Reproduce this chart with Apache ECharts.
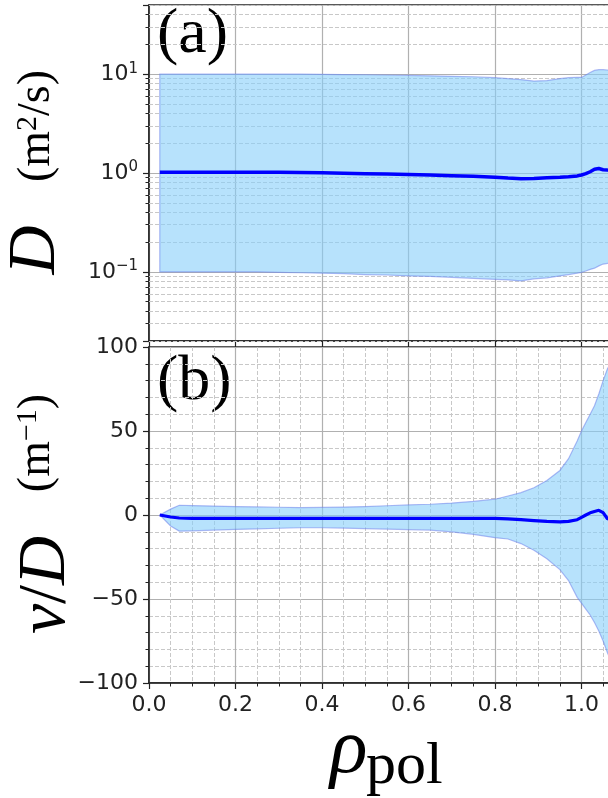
<!DOCTYPE html>
<html><head><meta charset="utf-8">
<script src="https://cdn.jsdelivr.net/npm/echarts@6/dist/echarts.min.js"></script>
<style>html,body{margin:0;padding:0;overflow:hidden;background:#fff}#c{width:660px;height:798px}</style>
</head><body><div id="c"></div><script>
// rho_pol sample positions
const rho = [0.025,0.05,0.07,0.1,0.15,0.2,0.25,0.3,0.35,0.4,0.45,0.5,0.55,0.6,0.65,0.7,0.75,0.8,0.83,0.86,0.89,0.92,0.95,0.97,0.99,1.0,1.01,1.02,1.03,1.04,1.05,1.06,1.08,1.1];
// panel (a): D (m^2/s)
const dMean = [1.02,1.02,1.02,1.02,1.02,1.02,1.02,1.015,1.01,1.005,0.995,0.985,0.975,0.965,0.955,0.94,0.925,0.905,0.89,0.877,0.88,0.895,0.905,0.915,0.935,0.955,0.985,1.03,1.09,1.11,1.08,1.07,1.06,1.05];
const dHigh = [10,10,10,10,10,10,10,10,10,9.95,9.9,9.85,9.8,9.7,9.6,9.5,9.4,9.2,9.0,8.8,8.5,8.6,9.0,9.2,9.3,9.25,9.8,10.4,10.9,11.1,11.1,11.0,11.0,11.0];
const dLow = [0.1,0.1,0.1,0.1,0.1,0.1,0.1,0.099,0.098,0.097,0.096,0.094,0.093,0.091,0.09,0.088,0.086,0.084,0.083,0.081,0.085,0.087,0.091,0.094,0.097,0.099,0.102,0.106,0.109,0.115,0.12,0.122,0.123,0.124];
// panel (b): v/D (m^-1)
const vMean = [0,-1.2,-1.8,-2,-2,-2,-2,-2,-2,-2,-2,-2,-2,-2,-2,-2,-2,-2,-2.3,-2.8,-3.3,-3.8,-4.1,-3.8,-2.8,-1.4,0,1.3,2.1,2.8,1.4,-2.2,-3,-3];
const vHigh = [0,3.5,5.8,5.6,5.3,5.0,4.8,4.6,4.4,4.5,4.7,5.0,5.5,6.0,6.4,7.1,8.1,9.4,11.3,13.3,16.2,20.5,26.5,33.5,44,50,55,60,65,72,80,87,96,100];
const vLow = [0,-6.5,-9.6,-9.4,-9.0,-8.6,-8.2,-7.9,-7.6,-7.6,-7.8,-8.1,-8.4,-8.7,-9.0,-10.0,-11.5,-13.5,-14.3,-17,-21,-26,-32.5,-39,-49,-52.5,-56,-59.5,-64,-69,-75,-82,-94,-100];
// log-axis minor gridline values
const dMinor = [0.02,0.03,0.04,0.05,0.06,0.07,0.08,0.09,0.2,0.3,0.4,0.5,0.6,0.7,0.8,0.9,2,3,4,5,6,7,8,9,20,30,40,50];
const panelLabels = ['(a)','(b)'];

const chart = echarts.init(document.getElementById('c'), null, {renderer:'canvas'});
const GL = 149, GW = 475.75;
const FILL = 'rgba(135,206,250,0.6)', EDGE = 'rgba(110,130,235,0.55)';
const tickFont = {fontFamily:'DejaVu Sans', fontSize:22, color:'#222'};

function band(xi, yi, lo, hi){
  return {type:'custom', xAxisIndex:xi, yAxisIndex:yi, clip:true, z:2, silent:true,
    data: rho.map((r,i)=>[r, lo[i], hi[i]]),
    renderItem: function(params, api){
      if (params.dataIndex !== 0) return null;
      const pts = [];
      for (let i=0;i<rho.length;i++) pts.push(api.coord([rho[i], hi[i]]));
      for (let i=rho.length-1;i>=0;i--) pts.push(api.coord([rho[i], lo[i]]));
      return {type:'polygon', shape:{points:pts, smooth:0}, style:{fill:FILL, stroke:EDGE, lineWidth:1.2}};
    }};
}
function meanLine(xi, yi, vals, w){
  return {type:'line', xAxisIndex:xi, yAxisIndex:yi, data: rho.map((r,i)=>[r, vals[i]]),
    showSymbol:false, symbol:'none', z:5, silent:true, lineStyle:{color:'#0000ff', width:w}};
}
const majorSplit = {show:true, lineStyle:{color:'#b0b0b0', width:1.2}};
const minorSplit = {show:true, lineStyle:{color:'#c8c8c8', width:1, type:[4,2]}};
const axLine = {show:true, onZero:false, lineStyle:{color:'#222', width:1.5}};

const option = {
  animation:false,
  grid:[
    {left:GL, top:5, width:GW, height:336, show:true, borderColor:'#222', borderWidth:1.5, backgroundColor:'transparent'},
    {left:GL, top:347, width:GW, height:336, show:true, borderColor:'#222', borderWidth:1.5, backgroundColor:'transparent'}
  ],
  xAxis:[
    {type:'value', gridIndex:0, min:0, max:1.1, interval:0.2, axisLine:axLine,
     axisTick:{show:true, length:6, lineStyle:{color:'#222', width:1.2}}, axisLabel:{show:false}, splitLine:majorSplit},
    {type:'value', gridIndex:1, min:0, max:1.1, interval:0.2, axisLine:axLine,
     axisTick:{show:true, length:6, lineStyle:{color:'#222', width:1.2}},
     minorTick:{show:true, splitNumber:4, length:3.5, lineStyle:{color:'#222', width:1}},
     minorSplitLine:minorSplit,
     axisLabel:Object.assign({margin:11, formatter:v=> v>1.05 ? '' : v.toFixed(1)}, tickFont),
     splitLine:majorSplit}
  ],
  yAxis:[
    {type:'log', gridIndex:0, logBase:10, min:0.02, max:50, axisLine:axLine,
     axisTick:{show:true, length:6, lineStyle:{color:'#222', width:1.2}},
     axisLabel:Object.assign({margin:11, formatter:function(v){
        const l = Math.log10(v), e = Math.round(l);
        if (Math.abs(l-e) > 1e-6) return '';
        return '10{s|' + (e<0?'\u2212':'') + Math.abs(e) + '}';
     }, rich:{s:{fontFamily:'DejaVu Sans', fontSize:15, color:'#222', padding:[0,0,11,0]}}}, tickFont),
     splitLine:majorSplit},
    {type:'log', gridIndex:0, logBase:10, min:0.02, max:50, position:'left',
     axisLine:{show:false}, axisLabel:{show:false}, splitLine:{show:false},
     axisTick:{show:true, length:3.5, customValues:dMinor, lineStyle:{color:'#222', width:1}}},
    {type:'value', gridIndex:1, min:-100, max:100, interval:50, axisLine:axLine,
     axisTick:{show:true, length:6, lineStyle:{color:'#222', width:1.2}},
     minorTick:{show:true, splitNumber:5, length:3.5, lineStyle:{color:'#222', width:1}},
     minorSplitLine:minorSplit,
     axisLabel:Object.assign({margin:11, formatter:v=> v<0 ? '\u2212'+Math.abs(v) : String(v)}, tickFont),
     splitLine:majorSplit}
  ],
  series:[
    {type:'line', xAxisIndex:0, yAxisIndex:0, data:[], silent:true,
     markLine:{silent:true, z:1, symbol:['none','none'], label:{show:false},
       lineStyle:{color:'#c8c8c8', width:1, type:[4,2]}, data: dMinor.map(v=>({yAxis:v}))}},
    band(0,0,dLow,dHigh),
    meanLine(0,0,dMean,3.5),
    band(1,2,vLow,vHigh),
    meanLine(1,2,vMean,3.2)
  ],
  graphic:{elements:[
    {type:'text', x:157, y:3, style:{text:panelLabels[0], fontFamily:'Liberation Serif', fontSize:64, fill:'#000'}},
    {type:'text', x:157, y:350, style:{text:panelLabels[1], fontFamily:'Liberation Serif', fontSize:64, fill:'#000'}},
    {type:'text', x:36, y:250, rotation:Math.PI/2, style:{text:'D', fontFamily:'Liberation Serif', fontStyle:'italic', fontSize:68, fill:'#000', textAlign:'center', textVerticalAlign:'middle'}},
    {type:'text', x:37, y:126, rotation:Math.PI/2, style:{text:'{u|(m}{s|2}{u|/s)}', textAlign:'center', textVerticalAlign:'middle',
      rich:{u:{fontFamily:'Liberation Serif', fontSize:46, fill:'#000'}, s:{fontFamily:'Liberation Serif', fontSize:30, fill:'#000', padding:[0,0,18,0]}}}},
    {type:'text', x:46, y:585, rotation:Math.PI/2, style:{text:'{i|v}{n|/}{i|D}', textAlign:'center', textVerticalAlign:'middle',
      rich:{i:{fontFamily:'Liberation Serif', fontStyle:'italic', fontSize:68, fill:'#000'}, n:{fontFamily:'Liberation Serif', fontSize:68, fill:'#000'}}}},
    {type:'text', x:37, y:443, rotation:Math.PI/2, style:{text:'{u|(m}{s|\u22121}{u|)}', textAlign:'center', textVerticalAlign:'middle',
      rich:{u:{fontFamily:'Liberation Serif', fontSize:46, fill:'#000'}, s:{fontFamily:'Liberation Serif', fontSize:30, fill:'#000', padding:[0,0,18,0]}}}},
    {type:'text', x:330, y:790, style:{text:'\u03c1', fontFamily:'Liberation Serif', fontStyle:'italic', fontSize:78, fill:'#000', textVerticalAlign:'bottom'}},
    {type:'text', x:366, y:797, style:{text:'pol', fontFamily:'Liberation Serif', fontSize:60, fill:'#000', textVerticalAlign:'bottom'}}
  ]}
};
chart.setOption(option);
</script></body></html>
